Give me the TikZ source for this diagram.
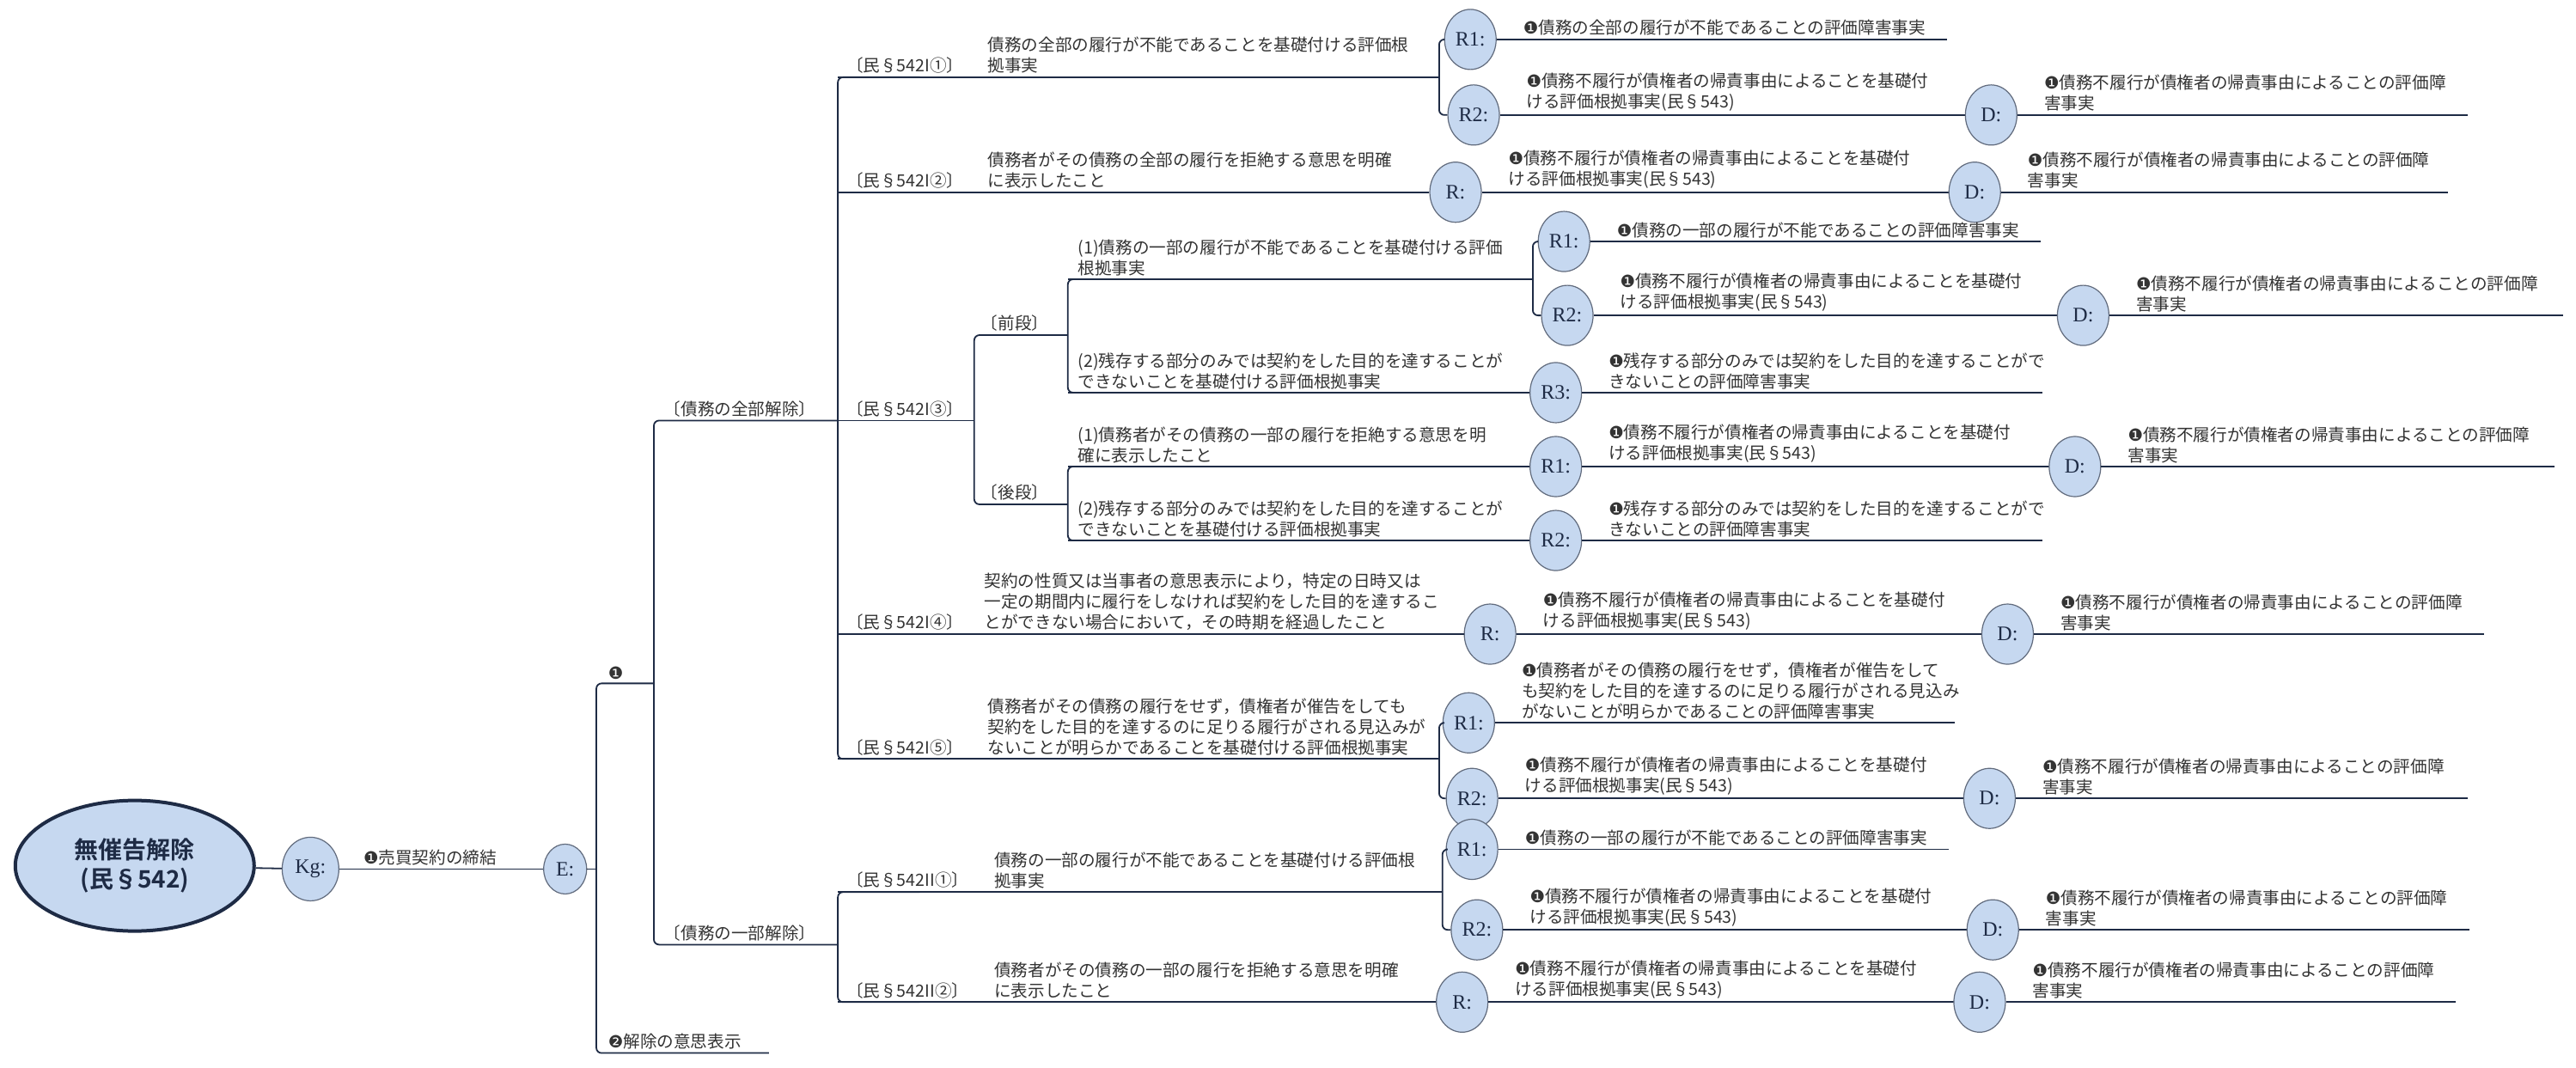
\documentclass[tikz,border=0pt]{standalone}
\usepackage{fontspec}
\setmainfont{Noto Sans CJK JP}
\newfontfamily\dv{DejaVu Sans}
\newfontfamily\sr{Liberation Serif}
\newfontfamily\jpb{Noto Sans CJK JP Bold}
\usetikzlibrary{shapes.geometric}
\definecolor{cblue}{HTML}{C6D8F0}
\definecolor{navy}{HTML}{1E2B45}
\definecolor{txt}{HTML}{333333}
\tikzset{
  ln/.style={draw=navy, line width=0.9pt},
  rc/.style={rounded corners=3pt},
  circ/.style={ellipse, draw=navy!70, fill=cblue, line width=0.6pt, minimum width=30pt, minimum height=35pt, inner sep=0pt, font=\sr\fontsize{12}{12}\selectfont, text=navy},
  tx/.style={anchor=south west, align=left, inner sep=1pt, font=\fontsize{9.8}{12}\selectfont, text=txt},
}
\newcommand\one{{\dv\char"2776}}
\newcommand\two{{\dv\char"2777}}
\newcommand\leaf[6]{\node[circ] (#1) at (#3,#4) {#2};
  \node[tx] (#1t) at (#3+31,#4-1) {#5};
  \draw[ln] (#1.east) -- (#6,#4);}
\newcommand\TA{\one 債務の全部の履行が不能であることの評価障害事実}
\newcommand\TB{\one 債務不履行が債権者の帰責事由によることを基礎付\\ける評価根拠事実(民§543)}
\newcommand\TC{\one 債務不履行が債権者の帰責事由によることの評価障\\害事実}
\newcommand\TD{\one 債務の一部の履行が不能であることの評価障害事実}
\newcommand\TE{\one 残存する部分のみでは契約をした目的を達することがで\\きないことの評価障害事実}
\newcommand\TF{\one 債務者がその債務の履行をせず，債権者が催告をして\\も契約をした目的を達するのに足りる履行がされる見込み\\がないことが明らかであることの評価障害事実}
\newcommand\TZ{(2)残存する部分のみでは契約をした目的を達することが\\できないことを基礎付ける評価根拠事実}
\begin{document}
\begin{tikzpicture}[x=0.956pt,y=-0.956pt]
\useasboundingbox[fill=white] (0,0) rectangle (1568,649.6);
% root level
\node[ellipse, draw=navy, line width=2pt, fill=cblue, minimum width=139pt, minimum height=76pt, align=center, inner sep=0pt, font=\jpb\fontsize{14}{17}\selectfont, text=navy] (root) at (82,527) {無催告解除\\(民§542)};
\node[circ, minimum width=33pt, minimum height=37pt] (kg) at (189,529) {Kg:};
\node[circ, minimum width=25pt, minimum height=29pt] (E) at (344,529) {E:};
\draw[ln] (root) -- (kg);
\draw[ln] (kg) -- (E);
\node[tx] (kgt) at (220,528) {\one 売買契約の締結};
\coordinate (eJ) at (363,529);
\draw[ln] (E.east) -- (eJ);
\draw[ln,rc] (398,416) -- (363,416) -- (363,641) -- (468,641);
\node[tx] (n1) at (369,415) {\one};
\node[tx] (n2) at (369,640) {\two 解除の意思表示};
\draw[ln,rc] (510,256) -- (398,256) -- (398,575) -- (510,575);
\node[tx] (zen) at (403,255) {〔債務の全部解除〕};
\node[tx] (ich) at (403,574) {〔債務の一部解除〕};
\draw[ln,rc] (560,47) -- (510,47) -- (510,462) -- (560,462);
\draw[ln,rc] (560,543) -- (510,543) -- (510,610) -- (560,610);
% I-1
\node[tx] (l11) at (514,46) {〔民§542I①〕};
\node[tx] (t11) at (600,46) {債務の全部の履行が不能であることを基礎付ける評価根\\拠事実};
\leaf{R1a}{R1:}{895}{24}{\TA}{1185}
\leaf{R2a}{R2:}{897}{70}{\TB}{1212}
\leaf{Da}{D:}{1212}{70}{\TC}{1502}
\draw[ln] (510,47) -- (876,47);
\draw[ln,rc] (R1a.west) -| (876,47) |- (R2a.west);
% I-2
\node[tx] (l12) at (514,116) {〔民§542I②〕};
\node[tx] (t12) at (600,116) {債務者がその債務の全部の履行を拒絶する意思を明確\\に表示したこと};
\leaf{Rb}{R:}{886}{117}{\TB}{1202}
\leaf{Db}{D:}{1202}{117}{\TC}{1490}
\draw[ln] (510,117) -- (Rb.west);
% I-3
\node[tx] (l13) at (514,255) {〔民§542I③〕};
\draw[ln] (510,256) -- (593,256);
\draw[ln,rc] (650,204) -- (593,204) -- (593,307) -- (650,307);
\node[tx] (zd) at (596,203) {〔前段〕};
\node[tx] (kd) at (596,306) {〔後段〕};
\draw[ln,rc] (700,170) -- (650,170) -- (650,239) -- (700,239);
\draw[ln,rc] (700,284) -- (650,284) -- (650,329) -- (700,329);
\node[tx] (t131) at (655,169) {(1)債務の一部の履行が不能であることを基礎付ける評価\\根拠事実};
\leaf{R1c}{R1:}{952}{147}{\TD}{1242}
\leaf{R2c}{R2:}{954}{192}{\TB}{1268}
\leaf{Dc}{D:}{1268}{192}{\TC}{1560}
\draw[ln] (650,170) -- (933,170);
\draw[ln,rc] (R1c.west) -| (933,170) |- (R2c.west);
\node[tx] (t132) at (655,238) {\TZ};
\leaf{R3c}{R3:}{947}{239}{\TE}{1243}
\draw[ln] (650,239) -- (R3c.west);
\node[tx] (t133) at (655,283) {(1)債務者がその債務の一部の履行を拒絶する意思を明\\確に表示したこと};
\leaf{R1d}{R1:}{947}{284}{\TB}{1263}
\leaf{Dd}{D:}{1263}{284}{\TC}{1555}
\draw[ln] (650,284) -- (R1d.west);
\node[tx] (t134) at (655,328) {\TZ};
\leaf{R2d}{R2:}{947}{329}{\TE}{1243}
\draw[ln] (650,329) -- (R2d.west);
% I-4
\node[tx] (l14) at (514,385) {〔民§542I④〕};
\node[tx] (t14) at (598,385) {契約の性質又は当事者の意思表示により，特定の日時又は\\一定の期間内に履行をしなければ契約をした目的を達するこ\\とができない場合において，その時期を経過したこと};
\leaf{Re}{R:}{907}{386}{\TB}{1222}
\leaf{De}{D:}{1222}{386}{\TC}{1512}
\draw[ln] (510,386) -- (Re.west);
% I-5
\node[tx] (l15) at (514,461) {〔民§542I⑤〕};
\node[tx] (t15) at (600,461) {債務者がその債務の履行をせず，債権者が催告をしても\\契約をした目的を達するのに足りる履行がされる見込みが\\ないことが明らかであることを基礎付ける評価根拠事実};
\leaf{R1f}{R1:}{894}{440}{\TF}{1190}
\leaf{R2f}{R2:}{896}{486}{\TB}{1211}
\leaf{Df}{D:}{1211}{486}{\TC}{1502}
\draw[ln] (510,462) -- (876,462);
\draw[ln,rc] (R1f.west) -| (876,462) |- (R2f.west);
% II-1
\node[tx] (l21) at (514,542) {〔民§542II①〕};
\node[tx] (t21) at (604,542) {債務の一部の履行が不能であることを基礎付ける評価根\\拠事実};
\leaf{R1g}{R1:}{896}{517}{\TD}{1186}
\leaf{R2g}{R2:}{899}{566}{\TB}{1213}
\leaf{Dg}{D:}{1213}{566}{\TC}{1503}
\draw[ln] (510,543) -- (878,543);
\draw[ln,rc] (R1g.west) -| (878,543) |- (R2g.west);
% II-2
\node[tx] (l22) at (514,609) {〔民§542II②〕};
\node[tx] (t22) at (604,609) {債務者がその債務の一部の履行を拒絶する意思を明確\\に表示したこと};
\leaf{Rh}{R:}{890}{610}{\TB}{1205}
\leaf{Dh}{D:}{1205}{610}{\TC}{1495}
\draw[ln] (510,610) -- (Rh.west);
\end{tikzpicture}
\end{document}
